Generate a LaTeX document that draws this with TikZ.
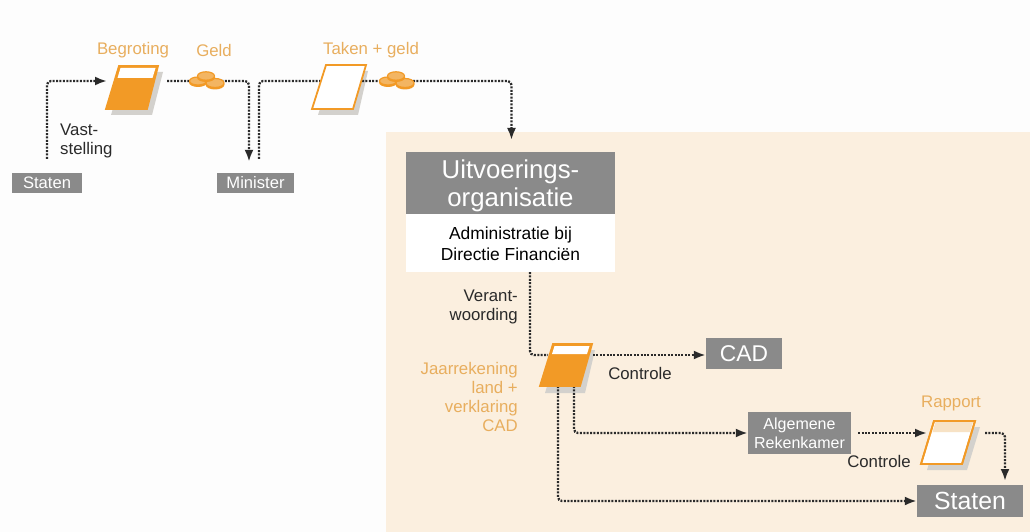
\documentclass[tikz,border=0pt]{standalone}
\usepackage{fontspec}
\setmainfont{Liberation Sans}
\usetikzlibrary{arrows.meta}
\definecolor{peach}{HTML}{FBEFDF}
\definecolor{bggray}{HTML}{FDFDFD}
\definecolor{boxgray}{HTML}{8A8A8A}
\definecolor{org}{HTML}{F29A26}
\definecolor{orgtext}{HTML}{E8AE5E}
\definecolor{shad}{HTML}{D3D1CD}
\definecolor{ink}{HTML}{2A2A2A}
\definecolor{coinfill}{HTML}{F3B562}
\tikzset{
  x=1pt,y=-1pt,
  link/.style={line width=2.3pt,ink,dash pattern=on 2pt off 1.4pt,rounded corners=4pt},
  tip/.style={-{Latex[length=12pt,width=9pt,ink]}},
  grayboxs/.style={fill=boxgray,text=white,inner sep=0pt,align=center,anchor=center},
  lab/.style={font=\fontsize{16.8}{19.2}\selectfont,align=center,inner sep=0pt},
  orange label/.style={lab,text=orgtext},
  black label/.style={lab,text=ink},
  coin/.style={fill=coinfill,draw=org,line width=1.2pt},
  sheet/.style={draw=org,line width=1.8pt,line join=miter},
}
\newcommand{\coins}[2]{%
  \begin{scope}[shift={(#1,#2)}]
    \fill[org] (-9,2.5) ellipse [x radius=9pt,y radius=4.5pt];
    \draw[coin] (-9,1) ellipse [x radius=8.5pt,y radius=4pt];
    \fill[org] (8,4.5) ellipse [x radius=9.5pt,y radius=5pt];
    \draw[coin] (8,3) ellipse [x radius=9pt,y radius=4.5pt];
    \fill[org] (-1,-2.5) ellipse [x radius=9pt,y radius=4.5pt];
    \draw[coin] (-1,-4) ellipse [x radius=8.5pt,y radius=4.2pt];
  \end{scope}}
\begin{document}
\begin{tikzpicture}
\useasboundingbox (0,0) rectangle (1030,532);
\fill[bggray] (0,0) rectangle (1030,532);
\fill[peach] (386,132) rectangle (1030,532);

% shadows
\fill[shad] (124,72) -- (163,72) -- (152,115) -- (111,115) -- cycle;
\fill[shad] (332,71) -- (368,71) -- (358,115) -- (318,115) -- cycle;
\fill[shad] (558,350) -- (595,350) -- (585,393) -- (545,393) -- cycle;
\fill[shad] (940,427) -- (980,427) -- (967,470) -- (927,470) -- cycle;

% gray boxes
\node[grayboxs,minimum width=70pt,minimum height=20pt,font=\fontsize{16.6}{19}\selectfont] (staten1) at (47,183) {Staten};
\node[grayboxs,minimum width=77pt,minimum height=20pt,font=\fontsize{16.6}{19}\selectfont] (minister) at (255.5,183) {Minister};
\node[grayboxs,minimum width=209pt,minimum height=62pt] (uitv) at (510.5,183) {};
\node[text=white,inner sep=0pt,align=center,font=\fontsize{25.8}{27.5}\selectfont] (uitvtext) at (510.5,186) {Uitvoerings-\\organisatie};
\node[fill=white,text=black,inner sep=0pt,align=center,minimum width=209pt,minimum height=58pt] (admin) at (510.5,243) {};
\node[text=black,inner sep=0pt,align=center,font=\fontsize{17.4}{20.5}\selectfont] (admintext) at (510.5,244) {Administratie bij\\Directie Financiën};
\node[grayboxs,minimum width=76pt,minimum height=31pt,font=\fontsize{22.8}{26}\selectfont] (cad) at (744,353.5) {CAD};
\node[grayboxs,minimum width=103pt,minimum height=42pt,font=\fontsize{16}{19}\selectfont] (rek) at (799.5,433) {Algemene\\Rekenkamer};
\node[grayboxs,minimum width=106pt,minimum height=32pt,font=\fontsize{24.8}{28}\selectfont] (staten2) at (970,501) {Staten};

% connectors
\coordinate (begrR) at (167,81);
\coordinate (begrL) at (107,81);
\coordinate (takL) at (320,81);
\coordinate (takR) at (362,81);
\coordinate (jaarT) at (548,355);
\coordinate (jaarR) at (593,355);
\coordinate (jaarA) at (574,386);
\coordinate (jaarB) at (558,386);
\coordinate (rappL) at (927,433);
\coordinate (rappR) at (985,433);

\draw[link,tip] ([yshift=14pt]staten1.north) -- (47,81) -- (begrL);
\draw[link,tip] (begrR) -- (249,81) -- ([xshift=-6.5pt,yshift=11pt]minister.north);
\draw[link] ([xshift=3.5pt,yshift=14pt]minister.north) -- (259,81) -- (takL);
\draw[link,tip] (takR) -- (511.5,81) -- (511.5,140);
\draw[link] (530,272) -- (530,355) -- (jaarT);
\draw[link,tip] (jaarR) -- (cad.west |- jaarR);
\draw[link,tip] (jaarA) -- (574,433) -- (rek.west);
\draw[link,tip] (jaarB) -- (558,501) -- (staten2.west |- 0,501);
\draw[link,tip] ([xshift=7pt]rek.east) -- (rappL);
\draw[link,tip] (rappR) -- (1005,433) -- (1005,481);

% sheets
\fill[org] (119,66) -- (158,66) -- (147,109) -- (106,109) -- cycle;
\fill[white] (120.5,68) -- (155.5,68) -- (152.5,78) -- (117.5,78) -- cycle;
\draw[sheet] (119,66) -- (158,66) -- (147,109) -- (106,109) -- cycle;

\draw[sheet,fill=white] (326,65) -- (366,65) -- (353,109) -- (312,109) -- cycle;

\fill[org] (553,344) -- (592,344) -- (580,386) -- (540,386) -- cycle;
\fill[white] (554.5,346) -- (589.5,346) -- (587,354) -- (552,354) -- cycle;
\draw[sheet] (553,344) -- (592,344) -- (580,386) -- (540,386) -- cycle;

\draw[sheet,fill=white] (934,421) -- (975,421) -- (962,464) -- (921,464) -- cycle;
\fill[peach!80!orgtext] (935.5,422) -- (973,422) -- (970,432) -- (932.5,432) -- cycle;
\draw[sheet] (934,421) -- (975,421) -- (962,464) -- (921,464) -- cycle;

% coins
\coins{207}{80}
\coins{397}{80}

% labels
\node[orange label] (l1) at (133,50) {Begroting};
\node[orange label] (l2) at (214,50) {Geld};
\node[orange label] (l3) at (371,50) {Taken + geld};
\node[black label,align=left,anchor=north west] (l4) at (60,124) {Vast-\\stelling};
\node[black label,align=right,anchor=north east] (l5) at (518,290) {Verant-\\woording};
\node[orange label,align=right,anchor=north east] (l6) at (518,362) {Jaarrekening\\land +\\verklaring\\CAD};
\node[black label] (l7) at (640,373) {Controle};
\node[black label] (l8) at (879,461) {Controle};
\node[orange label] (l9) at (951,403) {Rapport};
\end{tikzpicture}
\end{document}
